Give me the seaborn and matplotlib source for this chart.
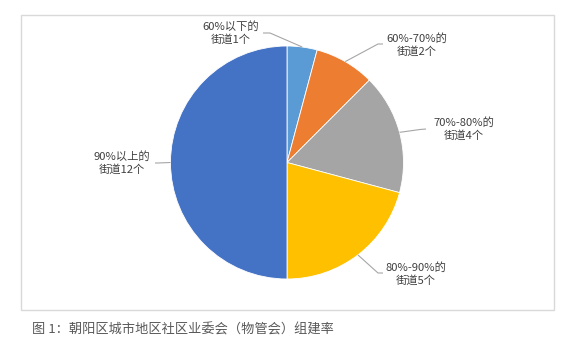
import matplotlib
matplotlib.use("Agg")
import matplotlib.pyplot as plt
from matplotlib.patches import Rectangle
import numpy as np
import seaborn as sns

# Data: number of streets per committee-formation-rate band
categories = ["60%以下的", "60%-70%的", "70%-80%的", "80%-90%的", "90%以上的"]
counts = [1, 2, 4, 5, 12]
caption = "图 1：朝阳区城市地区社区业委会（物管会）组建率"

palette = sns.color_palette(["#5B9BD5", "#ED7D31", "#A5A5A5", "#FFC000", "#4472C4"])

sns.set_theme(style="white")
plt.rcParams["font.family"] = ["Noto Sans CJK SC", "DejaVu Sans"]

W, H = 579, 343
fig = plt.figure(figsize=(W / 100, H / 100), dpi=100)
ax = fig.add_axes([0, 0, 1, 1])


def py(y):
    # pixel row (from top) -> axes y
    return H - y


# chart frame
ax.add_patch(Rectangle((21, py(310)), 554 - 21, 310 - 15, fill=False,
                       edgecolor="#D9D9D9", linewidth=1.0))

cx, cy, r = 287, py(162.5), 116.5
wedges, _ = ax.pie(counts, colors=palette, startangle=90, counterclock=False,
                   center=(cx, cy), radius=r, frame=True,
                   wedgeprops=dict(edgecolor="white", linewidth=0.6))
ax.set_xlim(0, W)
ax.set_ylim(0, H)
ax.set_aspect("equal")
ax.axis("off")

# label placement (pixel coords): text centre, leader elbow, leader end
label_pos = [(231, 33), (417, 44.5), (464, 129), (416, 273.5), (122, 163)]
elbows = [(270, 33), (378, 44), (420, 129.5), (378, 273), (158, 163)]
ends = [(263, 33), (383, 44), (426, 129), (383, 273), (155, 163)]

for w, cat, n, lp, el, en in zip(wedges, categories, counts, label_pos, elbows, ends):
    mid = np.deg2rad((w.theta1 + w.theta2) / 2)
    ex, ey = cx + r * np.cos(mid), cy + r * np.sin(mid)
    ax.plot([ex, el[0], en[0]], [ey, py(el[1]), py(en[1])],
            color="#A6A6A6", linewidth=0.8, solid_capstyle="butt")
    ax.text(lp[0], py(lp[1]), f"{cat}\n街道{n}个", ha="center", va="center",
            multialignment="center", fontsize=8.1, color="#404040",
            linespacing=1.25)

ax.text(32, py(330), caption, ha="left", va="center", fontsize=9.5,
        color="#595959")

fig.savefig("out.png", dpi=100)
